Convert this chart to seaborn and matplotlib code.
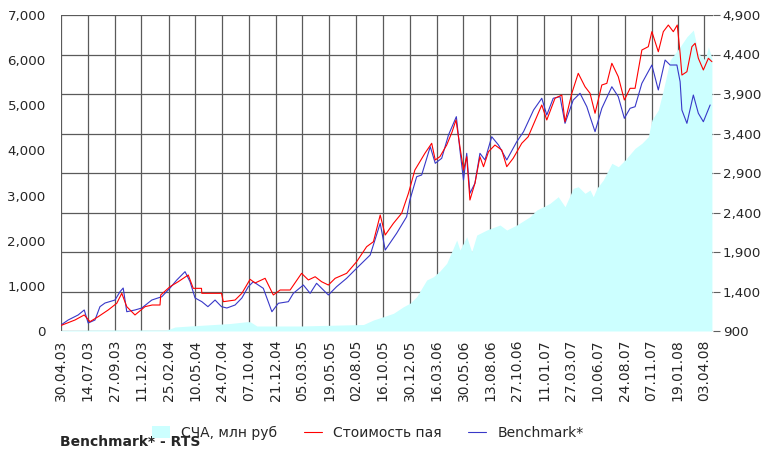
import pandas as pd
import seaborn as sns
import matplotlib
matplotlib.use('Agg')
import matplotlib.pyplot as plt
from matplotlib.patches import Patch
from matplotlib.lines import Line2D
from matplotlib.ticker import FuncFormatter

# unit value of the fund (right axis)
unit_dates = ['2003-04-30', '2003-06-08', '2003-07-04', '2003-07-20', '2003-08-12', '2003-09-09',
              '2003-10-03', '2003-10-17', '2003-10-31', '2003-11-23', '2003-12-21', '2004-01-10',
              '2004-02-01', '2004-02-03', '2004-02-29', '2004-03-23', '2004-04-20', '2004-05-04',
              '2004-05-27', '2004-05-28', '2004-07-22', '2004-07-27', '2004-08-29', '2004-09-17',
              '2004-10-10', '2004-10-24', '2004-11-21', '2004-12-14', '2005-01-02', '2005-01-30',
              '2005-03-03', '2005-03-22', '2005-04-10', '2005-04-28', '2005-05-17', '2005-06-05',
              '2005-07-07', '2005-08-04', '2005-09-01', '2005-09-20', '2005-10-09', '2005-10-23',
              '2005-11-15', '2005-12-08', '2005-12-27', '2006-01-14', '2006-01-28', '2006-02-11',
              '2006-03-02', '2006-03-12', '2006-03-25', '2006-04-13', '2006-04-28', '2006-05-09',
              '2006-05-20', '2006-05-30', '2006-06-08', '2006-06-17', '2006-07-01', '2006-07-15',
              '2006-07-25', '2006-08-08', '2006-08-26', '2006-09-14', '2006-09-28', '2006-10-16',
              '2006-11-09', '2006-11-27', '2006-12-21', '2007-01-04', '2007-01-18', '2007-02-10',
              '2007-03-01', '2007-03-10', '2007-03-29', '2007-04-16', '2007-05-05', '2007-05-19',
              '2007-06-02', '2007-06-21', '2007-07-05', '2007-07-19', '2007-08-06', '2007-08-23',
              '2007-09-08', '2007-09-22', '2007-10-11', '2007-10-29', '2007-11-08', '2007-11-26',
              '2007-12-10', '2007-12-24', '2008-01-07', '2008-01-18', '2008-01-26', '2008-01-31',
              '2008-02-14', '2008-02-28', '2008-03-08', '2008-03-17', '2008-03-31', '2008-04-14',
              '2008-04-24']
unit_values = [970, 1039, 1103, 1018, 1081, 1166, 1251, 1377, 1208, 1103, 1208, 1229,
               1229, 1356, 1461, 1524, 1609, 1440, 1440, 1377, 1377, 1271, 1292, 1377,
               1554, 1508, 1567, 1356, 1419, 1419, 1630, 1546, 1587, 1524, 1482, 1567,
               1630, 1777, 1967, 2030, 2368, 2115, 2263, 2390, 2643, 2938, 3043, 3149,
               3276, 3065, 3107, 3254, 3419, 3571, 3233, 2938, 3106, 2558, 2770, 3106,
               2980, 3170, 3254, 3191, 2980, 3086, 3276, 3359, 3613, 3761, 3571, 3846,
               3887, 3549, 3909, 4162, 3992, 3909, 3656, 4014, 4035, 4289, 4119, 3824,
               3972, 3972, 4457, 4499, 4689, 4435, 4689, 4773, 4689, 4773, 4415, 4140,
               4182, 4499, 4542, 4352, 4204, 4352, 4309]

# benchmark (RTS, rebased), right axis
bench_dates = ['2003-04-30', '2003-05-20', '2003-06-17', '2003-07-04', '2003-07-15', '2003-08-03',
               '2003-08-17', '2003-08-31', '2003-09-28', '2003-10-12', '2003-10-21', '2003-10-31',
               '2003-11-23', '2003-12-12', '2004-01-09', '2004-02-06', '2004-02-29', '2004-03-19',
               '2004-04-11', '2004-04-25', '2004-05-09', '2004-05-28', '2004-06-14', '2004-07-04',
               '2004-07-22', '2004-08-06', '2004-08-29', '2004-09-17', '2004-10-05', '2004-10-19',
               '2004-11-16', '2004-12-10', '2004-12-28', '2005-01-25', '2005-02-08', '2005-03-08',
               '2005-03-27', '2005-04-14', '2005-05-17', '2005-06-09', '2005-07-07', '2005-08-04',
               '2005-09-11', '2005-10-09', '2005-10-23', '2005-11-24', '2005-12-22', '2005-12-31',
               '2006-01-19', '2006-02-02', '2006-02-26', '2006-03-12', '2006-03-30', '2006-04-18',
               '2006-05-10', '2006-05-20', '2006-05-30', '2006-06-08', '2006-06-17', '2006-07-01',
               '2006-07-15', '2006-07-29', '2006-08-17', '2006-09-05', '2006-09-28', '2006-10-26',
               '2006-11-14', '2006-12-12', '2007-01-04', '2007-01-18', '2007-02-05', '2007-02-24',
               '2007-03-10', '2007-04-02', '2007-04-21', '2007-05-10', '2007-05-19', '2007-06-02',
               '2007-06-21', '2007-07-19', '2007-08-06', '2007-08-23', '2007-09-08', '2007-09-22',
               '2007-10-11', '2007-11-08', '2007-11-26', '2007-12-15', '2007-12-29', '2008-01-17',
               '2008-01-26', '2008-01-31', '2008-02-14', '2008-03-03', '2008-03-17', '2008-03-31',
               '2008-04-19']
bench_values = [976, 1039, 1103, 1166, 1001, 1039, 1208, 1254, 1292, 1397, 1444, 1144,
                1166, 1191, 1292, 1334, 1444, 1546, 1651, 1524, 1318, 1271, 1208, 1292,
                1208, 1191, 1229, 1318, 1461, 1524, 1440, 1144, 1251, 1271, 1377, 1482,
                1377, 1504, 1356, 1461, 1567, 1694, 1862, 2263, 1925, 2137, 2347, 2558,
                2853, 2875, 3233, 3023, 3086, 3381, 3613, 3191, 2811, 3149, 2643, 2770,
                3149, 3065, 3359, 3254, 3065, 3296, 3423, 3697, 3846, 3634, 3846, 3866,
                3529, 3824, 3909, 3739, 3613, 3423, 3719, 3992, 3866, 3592, 3719, 3739,
                4035, 4267, 3951, 4330, 4267, 4267, 4056, 3697, 3529, 3887, 3656, 3549,
                3761]

# net asset value, mln rub (left axis)
nav_dates = ['2003-04-30', '2003-08-17', '2004-02-20', '2004-03-14', '2004-04-25', '2004-08-15',
             '2004-10-01', '2004-10-10', '2004-10-29', '2005-02-27', '2005-08-23', '2005-09-20',
             '2005-10-18', '2005-11-15', '2005-12-13', '2005-12-31', '2006-01-19', '2006-02-16',
             '2006-03-07', '2006-03-25', '2006-04-13', '2006-04-27', '2006-05-11', '2006-05-20',
             '2006-06-08', '2006-06-22', '2006-07-06', '2006-08-03', '2006-09-09', '2006-09-28',
             '2006-10-26', '2006-12-02', '2006-12-21', '2007-01-09', '2007-01-27', '2007-02-19',
             '2007-03-10', '2007-04-02', '2007-04-16', '2007-05-05', '2007-05-19', '2007-05-28',
             '2007-06-07', '2007-06-25', '2007-07-19', '2007-08-06', '2007-08-25', '2007-09-22',
             '2007-10-11', '2007-10-29', '2007-11-08', '2007-11-26', '2007-12-10', '2007-12-29',
             '2008-01-26', '2008-02-14', '2008-03-03', '2008-03-17', '2008-04-05', '2008-04-14',
             '2008-04-24']
nav_values = [15, 22, 22, 89, 111, 166, 206, 206, 111, 111, 144, 244,
              317, 392, 538, 614, 760, 1130, 1203, 1329, 1500, 1756, 2016, 1794,
              2089, 1756, 2126, 2237, 2348, 2237, 2348, 2532, 2680, 2753, 2829, 2975,
              2753, 3161, 3196, 3050, 3123, 2975, 3161, 3345, 3715, 3639, 3788, 4047,
              4158, 4304, 4674, 4895, 5338, 6003, 6297, 6519, 6667, 6151, 6003, 6297,
              6040]

tick_labels = ['30.04.03', '14.07.03', '27.09.03', '11.12.03', '25.02.04', '10.05.04',
               '24.07.04', '07.10.04', '21.12.04', '05.03.05', '19.05.05', '02.08.05',
               '16.10.05', '30.12.05', '16.03.06', '30.05.06', '13.08.06', '27.10.06',
               '11.01.07', '27.03.07', '10.06.07', '24.08.07', '07.11.07', '19.01.08',
               '03.04.08']

left_ticks = [0, 1000, 2000, 3000, 4000, 5000, 6000, 7000]
right_ticks = [900, 1400, 1900, 2400, 2900, 3400, 3900, 4400, 4900]

nav = pd.DataFrame({'date': pd.to_datetime(nav_dates), 'value': nav_values})
unit = pd.DataFrame({'date': pd.to_datetime(unit_dates), 'value': unit_values})
bench = pd.DataFrame({'date': pd.to_datetime(bench_dates), 'value': bench_values})
ticks = pd.to_datetime(tick_labels, format='%d.%m.%y')

sns.set_style('white')
plt.rcParams['font.family'] = ['DejaVu Sans']

area_color = '#CCFFFF'
red = '#FF0000'
blue = '#3838C8'
grid_color = '#5a5a5a'

fig = plt.figure(figsize=(7.63, 4.51), dpi=100)
ax1 = fig.add_axes([61 / 763, 120 / 451, 652 / 763, 316 / 451])
ax2 = ax1.twinx()

# grid sits under the area: vertical on dates, horizontal on right-axis levels
for t in ticks:
    ax1.axvline(t, color=grid_color, lw=0.9, zorder=0)
for r in right_ticks:
    ax1.axhline((r - right_ticks[0]) / (right_ticks[-1] - right_ticks[0]) * left_ticks[-1],
                color=grid_color, lw=0.9, zorder=0)

ax1.fill_between(nav['date'], nav['value'], 0, color=area_color, lw=0, zorder=1)

sns.lineplot(data=bench, x='date', y='value', ax=ax2, color=blue, lw=0.8)
sns.lineplot(data=unit, x='date', y='value', ax=ax2, color=red, lw=0.8)

ax1.set_xlim(pd.Timestamp('2003-04-30'), pd.Timestamp('2008-04-27'))
ax1.set_ylim(0, 7000)
ax2.set_ylim(900, 4900)

ax1.set_xticks(ticks)
ax1.set_xticklabels(tick_labels, rotation=90, fontsize=10)
ax1.set_yticks(left_ticks)
ax1.yaxis.set_major_formatter(FuncFormatter(lambda v, p: f'{v:,.0f}'))
ax2.set_yticks(right_ticks)
ax2.yaxis.set_major_formatter(FuncFormatter(lambda v, p: f'{v:,.0f}'))

ax1.tick_params(axis='y', length=0, pad=11, labelsize=9.6)
ax1.tick_params(axis='x', length=3, width=0.8, color='#808080', pad=3)
ax2.tick_params(axis='y', length=5, width=0.8, color='#606060', pad=2, labelsize=9.6)
ax1.set_xlabel('')
ax1.set_ylabel('')
ax2.set_xlabel('')
ax2.set_ylabel('')
for a in (ax1, ax2):
    for s in a.spines.values():
        s.set_visible(False)

handles = [Patch(facecolor=area_color, edgecolor='none'),
           Line2D([], [], color=red, lw=0.8),
           Line2D([], [], color=blue, lw=0.8)]
fig.legend(handles, ['СЧА, млн руб', 'Стоимость пая', 'Benchmark*'],
           loc='center', bbox_to_anchor=(0.482, 0.04), ncol=3, frameon=False,
           fontsize=10, handlelength=1.3, handleheight=1.0, handletextpad=0.8,
           columnspacing=1.9)
fig.text(60 / 763, 0.005, 'Benchmark* - RTS', fontsize=10, fontweight='bold', va='bottom')

plt.savefig('out.png', dpi=100)
